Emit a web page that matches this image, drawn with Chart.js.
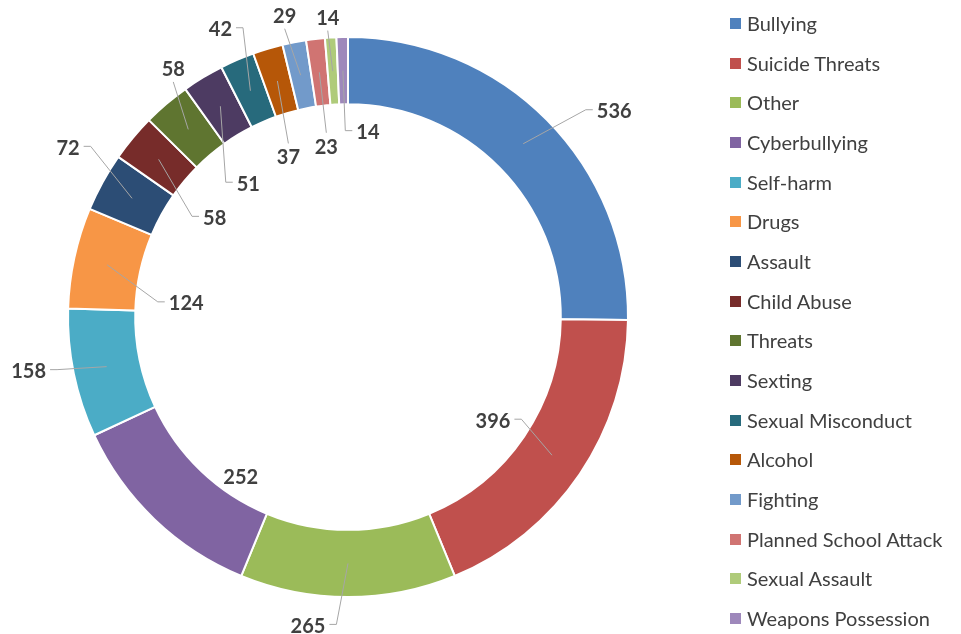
<!DOCTYPE html>
<html>
<head>
<meta charset="utf-8">
<script src="https://cdn.jsdelivr.net/npm/chart.js@4.4.0/dist/chart.umd.min.js"></script>
<style>
  html, body { margin: 0; padding: 0; background: #fff; }
  #wrap { position: relative; width: 961px; height: 634px; overflow: hidden; }
  #legend { position: absolute; left: 0; top: 0; }
  .item { position: absolute; left: 730px; height: 24px; white-space: nowrap;
          font-family: Lato, "Open Sans", sans-serif; font-size: 20px; color: #404040; }
  .item span.box { position: absolute; left: 0; top: 7px; width: 11px; height: 11px; }
  .item span.txt { position: absolute; left: 17px; top: 0; line-height: 24px; }
</style>
</head>
<body>
<div id="wrap">
  <canvas id="donut" width="961" height="634"></canvas>
  <div id="legend"></div>
</div>
<script>
// categories and values
const categories = ["Bullying", "Suicide Threats", "Other", "Cyberbullying", "Self-harm", "Drugs",
  "Assault", "Child Abuse", "Threats", "Sexting", "Sexual Misconduct", "Alcohol", "Fighting",
  "Planned School Attack", "Sexual Assault", "Weapons Possession"];
const counts = [536, 396, 265, 252, 158, 124, 72, 58, 58, 51, 42, 37, 29, 23, 14, 14];
const colors = ["#4F81BD", "#C0504D", "#9BBB59", "#8064A2", "#4BACC6", "#F79646",
  "#2C4D75", "#772C2A", "#5F7530", "#4D3B62", "#276A7C", "#B65708", "#729ACA",
  "#D07472", "#AFCB7A", "#9E88BB"];

// where each value label sits relative to its slice (dx, dy from mid-ring point)
// attach: 's' = side stub, 'v' = top/bottom, '' = no leader line
const labelOffsets = [[91, -33], [-59, -35], [-40, 62], [63, -19], [-78, 4], [79, 38],
  [-64, -51], [56, 58], [-15, -61], [28, 77], [-30, -62], [11, 76], [-16, -60],
  [7, 74], [-5, -54], [25, 61]];
const labelAttach = ['s', 's', 's', '', 's', 's', 's', 's', 'v', 's', 's', 'v', 'v', 'v', 'v', 's'];

// build the html legend
const legendEl = document.getElementById('legend');
categories.forEach((name, i) => {
  const div = document.createElement('div');
  div.className = 'item';
  div.style.top = (23 + i * 39.67 - 12) + 'px';
  div.innerHTML = `<span class="box" style="background:${colors[i]}"></span><span class="txt">${name}</span>`;
  legendEl.appendChild(div);
});

const leaderLabels = {
  id: 'leaderLabels',
  afterDatasetsDraw(chart) {
    const ctx = chart.ctx;
    const arcs = chart.getDatasetMeta(0).data;
    ctx.save();
    ctx.font = 'bold 20px Lato, "Open Sans", sans-serif';
    ctx.textAlign = 'center';
    ctx.textBaseline = 'middle';
    arcs.forEach((arc, i) => {
      const p = arc.getProps(['x', 'y', 'startAngle', 'endAngle', 'innerRadius', 'outerRadius'], true);
      const mid = (p.startAngle + p.endAngle) / 2;
      const r = (p.innerRadius + p.outerRadius) / 2;
      const ax = p.x + Math.cos(mid) * r;
      const ay = p.y + Math.sin(mid) * r;
      const lx = ax + labelOffsets[i][0];
      const ly = ay + labelOffsets[i][1];
      const txt = String(counts[i]);
      const w = ctx.measureText(txt).width;
      const h = 15;

      ctx.strokeStyle = '#A6A6A6';
      ctx.lineWidth = 1;
      if (labelAttach[i] === 's') {
        const side = lx > ax ? -1 : 1;
        const ex = lx + side * (w / 2 + 4);
        const sx = ex + side * 7;
        ctx.beginPath();
        ctx.moveTo(ax, ay);
        ctx.lineTo(sx, ly - 1);
        ctx.lineTo(ex, ly - 1);
        ctx.stroke();
      } else if (labelAttach[i] === 'v') {
        const side = ly > ay ? -1 : 1;
        ctx.beginPath();
        ctx.moveTo(ax, ay);
        ctx.lineTo(lx, ly + side * (h / 2 + 6));
        ctx.stroke();
      }
      ctx.fillStyle = '#404040';
      ctx.fillText(txt, lx, ly + 1);
    });
    ctx.restore();
  }
};

new Chart(document.getElementById('donut'), {
  type: 'doughnut',
  data: {
    labels: categories,
    datasets: [{
      data: counts,
      backgroundColor: colors,
      borderColor: '#ffffff',
      borderWidth: 2,
      hoverOffset: 0
    }]
  },
  options: {
    responsive: false,
    animation: false,
    cutout: '76%',
    layout: { padding: { left: 67, right: 332, top: 36, bottom: 36 } },
    plugins: {
      legend: { display: false },
      tooltip: { enabled: false }
    }
  },
  plugins: [leaderLabels]
});
</script>
</body>
</html>
